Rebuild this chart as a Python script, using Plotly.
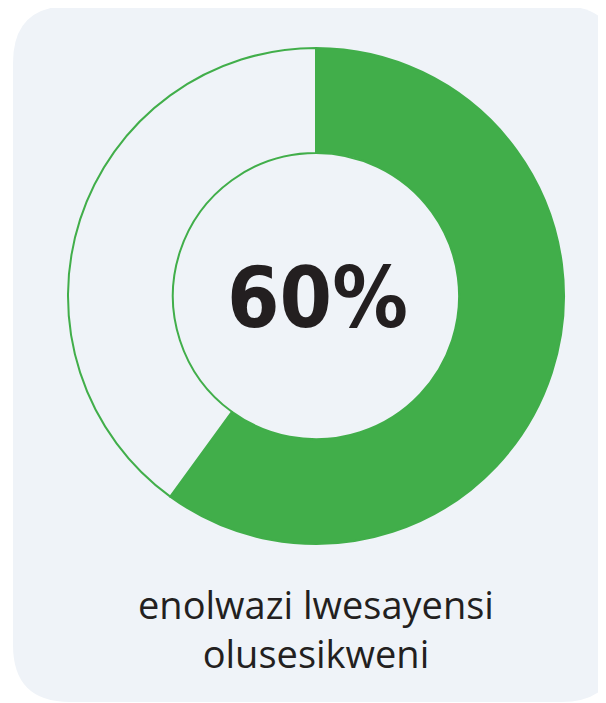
import plotly.graph_objects as go

# share of the ring
labels = ["enolwazi lwesayensi olusesikweni", "okunye"]
values = [60, 40]
center_text = "60%"
caption = "enolwazi lwesayensi<br>olusesikweni"

# the page body adds an 8px margin, so the figure sits at (8, 8)
OFF = 8
W, H = 606, 703 - OFF
green = "#41ae4a"
panel = "#eff3f8"
ink = "#231f20"


def px_x(v):
    return (v - OFF) / W


def px_y(v):
    return 1 - (v - OFF) / H


# rounded panel behind the chart (screen pixels turned into paper units)
x0, x1, y0, y1, r = 13, 618, 6, 702, 57
panel_path = (
    f"M {px_x(x0 + r)} {px_y(y0)} "
    f"L {px_x(x1 - r)} {px_y(y0)} "
    f"Q {px_x(x1)} {px_y(y0)} {px_x(x1)} {px_y(y0 + r)} "
    f"L {px_x(x1)} {px_y(y1 - r)} "
    f"Q {px_x(x1)} {px_y(y1)} {px_x(x1 - r)} {px_y(y1)} "
    f"L {px_x(x0 + r)} {px_y(y1)} "
    f"Q {px_x(x0)} {px_y(y1)} {px_x(x0)} {px_y(y1 - r)} "
    f"L {px_x(x0)} {px_y(y0 + r)} "
    f"Q {px_x(x0)} {px_y(y0)} {px_x(x0 + r)} {px_y(y0)} Z"
)

fig = go.Figure(
    go.Pie(
        labels=labels,
        values=values,
        hole=0.577,
        sort=False,
        direction="clockwise",
        rotation=0,
        textinfo="none",
        hoverinfo="label+percent",
        marker=dict(colors=[green, panel], line=dict(color=green, width=2)),
        domain=dict(x=[px_x(68), px_x(564)], y=[px_y(544), px_y(48)]),
        showlegend=False,
    )
)

fig.update_layout(
    width=W,
    height=H,
    margin=dict(l=0, r=0, t=0, b=0),
    paper_bgcolor="white",
    plot_bgcolor="white",
    shapes=[dict(type="path", xref="paper", yref="paper", path=panel_path,
                 fillcolor=panel, line=dict(width=0), layer="below")],
    annotations=[
        dict(text=f"<b>{center_text}</b>", x=px_x(317), y=px_y(298),
             xref="paper", yref="paper", showarrow=False,
             xanchor="center", yanchor="middle",
             font=dict(family="DejaVu Sans Condensed, Roboto",
                       size=84, color=ink)),
        dict(text=caption, x=px_x(316), y=px_y(628),
             xref="paper", yref="paper", showarrow=False,
             xanchor="center", yanchor="middle",
             font=dict(family="Open Sans", size=38, color=ink)),
    ],
)

fig.write_html("out.html")
